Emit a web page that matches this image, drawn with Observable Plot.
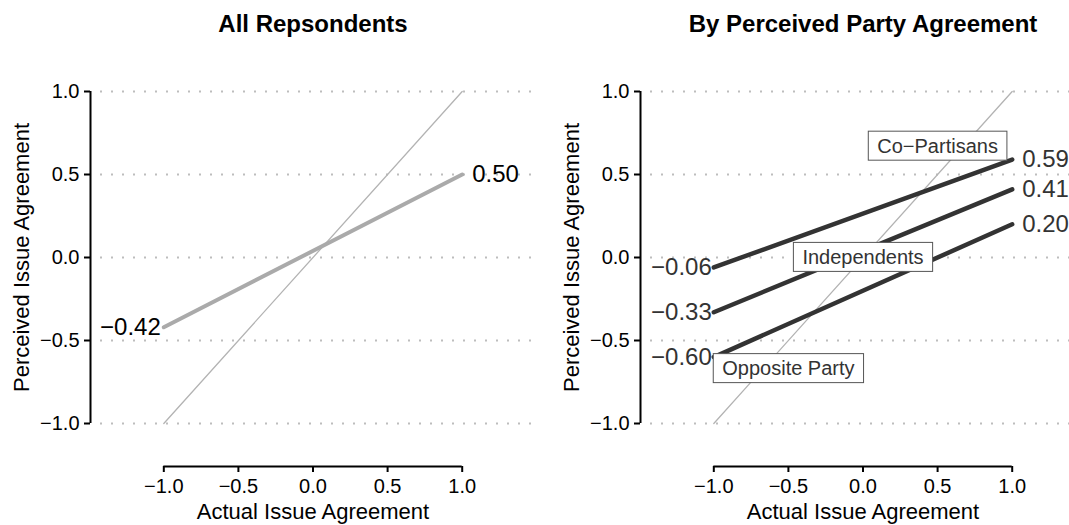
<!DOCTYPE html>
<html>
<head>
<meta charset="utf-8">
<script src="https://cdn.jsdelivr.net/npm/d3@7"></script>
<script src="https://cdn.jsdelivr.net/npm/@observablehq/plot@0.6"></script>
<style>
  html, body { margin: 0; padding: 0; background: #fff; }
  #root { position: relative; width: 1069px; height: 525px; overflow: hidden; background: #fff; }
  #root svg { position: absolute; top: 0; }
</style>
</head>
<body>
<div id="root"></div>
<script>
// ---- data ----
const xTicks = [-1, -0.5, 0, 0.5, 1];
const yTicks = [-1, -0.5, 0, 0.5, 1];
const xEnds = [-1, 1];
const allValues = [-0.42, 0.50];
const groups = ["Co\u2212Partisans", "Independents", "Opposite Party"];
const groupStart = [-0.06, -0.33, -0.60];
const groupEnd = [0.59, 0.41, 0.20];
const groupLabelX = [0.5, 0, -0.5];
const groupLabelY = [0.67, 0, -0.67];
const titles = ["All Repsondents", "By Perceived Party Agreement"];
const xLabel = "Actual Issue Agreement";
const yLabel = "Perceived Issue Agreement";

// ---- derived tables ----
const diagonal = xEnds.map(x => ({x, y: x}));
const allLine = xEnds.map((x, i) => ({x, y: allValues[i]}));
const groupLines = groups.flatMap((g, i) => [
  {g, x: xEnds[0], y: groupStart[i]},
  {g, x: xEnds[1], y: groupEnd[i]}
]);
const groupLabels = groups.map((g, i) => ({g, x: groupLabelX[i], y: groupLabelY[i]}));

const fmt1 = d3.format(".1f");
const fmt2 = d3.format(".2f");
const xMid = d3.mean(xTicks);
const yMid = d3.mean(yTicks);

// ---- layout ----
const H = 525;
const mLeft = 90, mTop = 91, mBottom = 59;
const xRange = [163.3, 461.7];
const yRange = [423, 91];
const frameBottom = H - mBottom;
const FONT = "'Liberation Sans', Arial, Helvetica, sans-serif";

function panel({width, marginRight, title, dataMarks}) {
  return Plot.plot({
    width, height: H,
    marginLeft: mLeft, marginTop: mTop, marginBottom: mBottom, marginRight,
    x: {domain: [xTicks[0], xTicks[xTicks.length - 1]], range: xRange, axis: null, label: null},
    y: {domain: [yTicks[0], yTicks[yTicks.length - 1]], range: yRange, axis: null, label: null},
    style: {fontFamily: FONT, fontSize: "20px", color: "black", background: "white", overflow: "visible"},
    marks: [
      Plot.ruleY(yTicks, {stroke: "#bdbdbd", strokeWidth: 2, strokeDasharray: "2,9", insetLeft: 10}),
      ...dataMarks,
      // axis lines
      Plot.ruleY([yTicks[0]], {x1: xTicks[0], x2: xTicks[xTicks.length - 1], dy: frameBottom - yRange[0], stroke: "black", strokeWidth: 2}),
      Plot.ruleX([xTicks[0]], {y1: yTicks[0], y2: yTicks[yTicks.length - 1], dx: mLeft - xRange[0], stroke: "black", strokeWidth: 2}),
      Plot.axisY(yTicks, {anchor: "left", tickSize: 6, tickPadding: 5, tickFormat: fmt1, strokeWidth: 2, fontSize: 20, label: null}),
      Plot.axisX(xTicks, {anchor: "bottom", tickSize: 6, tickPadding: 6, tickFormat: fmt1, strokeWidth: 2, fontSize: 20, label: null}),
      // titles
      Plot.text([title], {x: () => xMid, frameAnchor: "top", lineAnchor: "middle", textAnchor: "middle", dy: -67, fontWeight: "bold", fontSize: 24, fill: "black"}),
      Plot.text([xLabel], {x: () => xMid, frameAnchor: "bottom", lineAnchor: "middle", textAnchor: "middle", dy: 45, fontSize: 22, fill: "black"}),
      Plot.text([yLabel], {y: () => yMid, frameAnchor: "left", lineAnchor: "middle", textAnchor: "middle", dx: -69, rotate: -90, fontSize: 22, fill: "black"})
    ]
  });
}

const left = panel({
  width: 550, marginRight: 10, title: titles[0],
  dataMarks: [
    Plot.line(diagonal, {x: "x", y: "y", stroke: "#b3b3b3", strokeWidth: 1.3}),
    Plot.line(allLine, {x: "x", y: "y", stroke: "#aaaaaa", strokeWidth: 4, strokeLinecap: "round"}),
    Plot.text(allLine, {filter: d => d.x < 0, x: "x", y: "y", text: d => fmt2(d.y), textAnchor: "end", dx: -3, fontSize: 24, fill: "black"}),
    Plot.text(allLine, {filter: d => d.x > 0, x: "x", y: "y", text: d => fmt2(d.y), textAnchor: "start", dx: 10, fontSize: 24, fill: "black"})
  ]
});

const right = panel({
  width: 519, marginRight: 0, title: titles[1],
  dataMarks: [
    Plot.line(diagonal, {x: "x", y: "y", stroke: "#b3b3b3", strokeWidth: 1.3}),
    Plot.line(groupLines, {x: "x", y: "y", z: "g", stroke: "#333333", strokeWidth: 4.5, strokeLinecap: "round"}),
    Plot.text(groupLines, {filter: d => d.x < 0, x: "x", y: "y", text: d => fmt2(d.y), textAnchor: "end", dx: -2, fontSize: 24, fill: "#333333"}),
    Plot.text(groupLines, {filter: d => d.x > 0, x: "x", y: "y", text: d => fmt2(d.y), textAnchor: "start", dx: 10, fontSize: 24, fill: "#333333"}),
    Plot.text(groupLabels, {x: "x", y: "y", text: "g", fontSize: 20, fill: "#333333"})
  ]
});

const root = document.getElementById("root");
left.style.left = "0px";
right.style.left = "550px";
root.appendChild(left);
root.appendChild(right);

// white label boxes behind the group names
const ns = "http://www.w3.org/2000/svg";
right.querySelectorAll("text").forEach(t => {
  if (!groups.includes(t.textContent)) return;
  const b = t.getBBox();
  const r = document.createElementNS(ns, "rect");
  r.setAttribute("x", b.x - 9);
  r.setAttribute("y", b.y - 3.5);
  r.setAttribute("width", b.width + 18);
  r.setAttribute("height", b.height + 7);
  r.setAttribute("fill", "white");
  r.setAttribute("stroke", "#555555");
  r.setAttribute("stroke-width", "1");
  const tr = t.getAttribute("transform");
  if (tr) r.setAttribute("transform", tr);
  t.parentNode.insertBefore(r, t);
});
</script>
</body>
</html>
